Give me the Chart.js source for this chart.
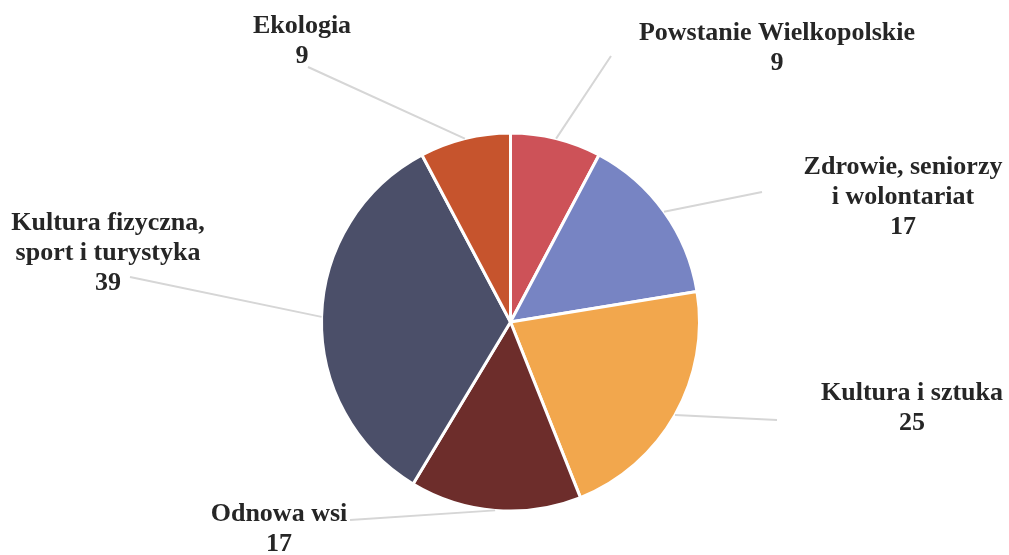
<!DOCTYPE html>
<html>
<head>
<meta charset="utf-8">
<script src="https://cdn.jsdelivr.net/npm/chart.js@4/dist/chart.umd.min.js"></script>
<style>
html,body{margin:0;padding:0;background:#fff;}
#wrap{width:1009px;height:555px;position:relative;}
</style>
</head>
<body>
<div id="wrap"><canvas id="c" width="1009" height="555"></canvas></div>
<script>
// ---- data ----
const categories = [
  ["Powstanie Wielkopolskie"],
  ["Zdrowie, seniorzy", "i wolontariat"],
  ["Kultura i sztuka"],
  ["Odnowa wsi"],
  ["Kultura fizyczna,", "sport i turystyka"],
  ["Ekologia"]
];
const values = [9, 17, 25, 17, 39, 9];
const colors = ["#cd5258", "#7784c3", "#f2a74d", "#6d2d2b", "#4b4f69", "#c6542d"];

// ---- layout for labels (centre x, first line middle y) and leader-line ends ----
const labelLayout = [
  {x: 777, y: 33,  lx: 611, ly: 56},
  {x: 903, y: 167, lx: 762, ly: 192},
  {x: 912, y: 393, lx: 777, ly: 420},
  {x: 279, y: 514, lx: 350, ly: 520},
  {x: 108, y: 223, lx: 130, ly: 277},
  {x: 302, y: 26,  lx: 308, ly: 67}
];

const labelPlugin = {
  id: 'outLabels',
  afterDatasetsDraw(chart) {
    const ctx = chart.ctx;
    const meta = chart.getDatasetMeta(0);
    ctx.save();
    meta.data.forEach((arc, i) => {
      const p = arc.getProps(['x','y','startAngle','endAngle','outerRadius'], true);
      const mid = (p.startAngle + p.endAngle) / 2;
      const sx = p.x + Math.cos(mid) * p.outerRadius;
      const sy = p.y + Math.sin(mid) * p.outerRadius;
      const L = labelLayout[i];
      ctx.strokeStyle = '#d6d6d6';
      ctx.lineWidth = 2;
      ctx.beginPath();
      ctx.moveTo(sx, sy);
      ctx.lineTo(L.lx, L.ly);
      ctx.stroke();
    });
    ctx.fillStyle = '#262626';
    ctx.font = 'bold 26px "Liberation Serif", "Times New Roman", serif';
    ctx.textAlign = 'center';
    ctx.textBaseline = 'middle';
    categories.forEach((lines, i) => {
      const L = labelLayout[i];
      const all = lines.concat([String(values[i])]);
      all.forEach((t, k) => ctx.fillText(t, L.x, L.y + k * 30));
    });
    ctx.restore();
  }
};

new Chart(document.getElementById('c'), {
  type: 'pie',
  data: {
    labels: categories.map(l => l.join(' ')),
    datasets: [{
      data: values,
      backgroundColor: colors,
      borderColor: '#ffffff',
      borderWidth: 3
    }]
  },
  options: {
    responsive: false,
    animation: false,
    layout: {padding: {left: 320, right: 308, top: 131, bottom: 42}},
    plugins: {legend: {display: false}, tooltip: {enabled: false}}
  },
  plugins: [labelPlugin]
});
</script>
</body>
</html>
